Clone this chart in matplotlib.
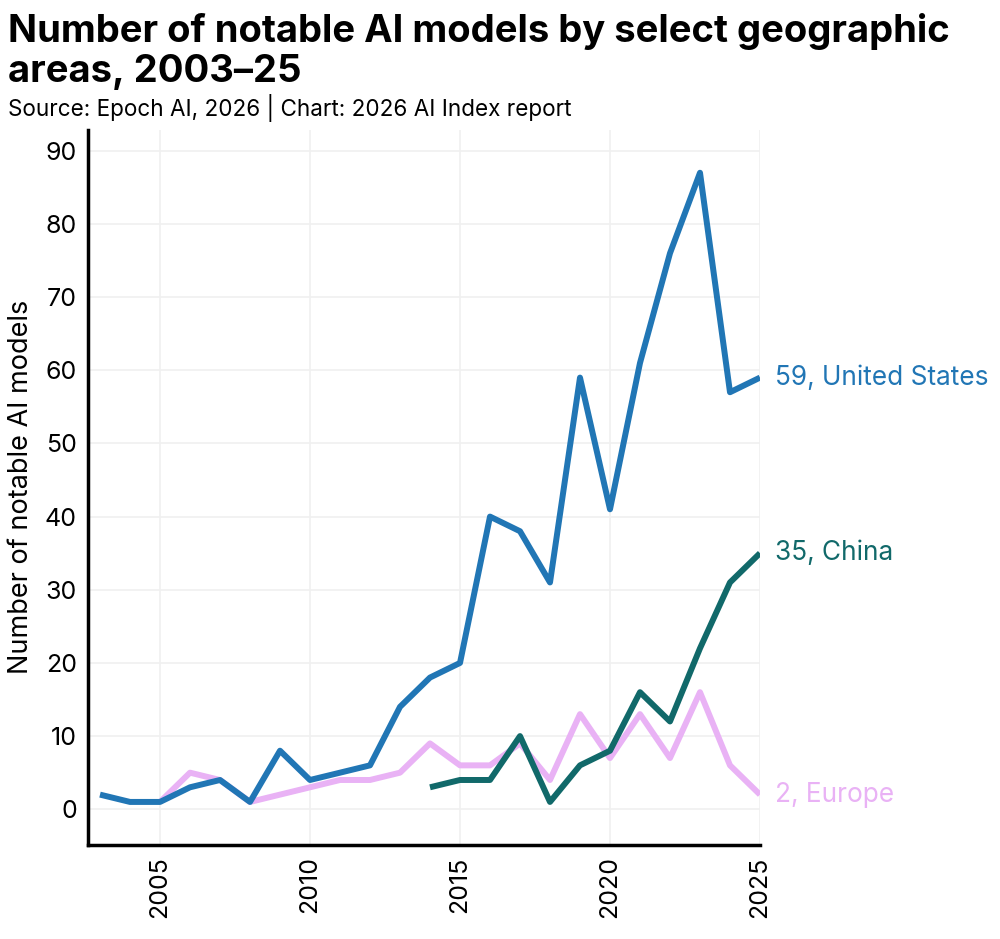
import matplotlib
matplotlib.use("Agg")
import matplotlib.pyplot as plt

years = list(range(2003, 2026))
us = [2, 1, 1, 3, 4, 1, 8, 4, 5, 6, 14, 18, 20, 40, 38, 31, 59, 41, 61, 76, 87, 57, 59]
europe_years = list(range(2005, 2026))
europe = [1, 5, 4, 1, 2, 3, 4, 4, 5, 9, 6, 6, 9, 4, 13, 7, 13, 7, 16, 6, 2]
china_years = list(range(2014, 2026))
china = [3, 4, 4, 10, 1, 6, 8, 16, 12, 22, 31, 35]

x_ticks = [2005, 2010, 2015, 2020, 2025]
y_ticks = [0, 10, 20, 30, 40, 50, 60, 70, 80, 90]

c_us = "#2176b5"
c_cn = "#11696a"
c_eu = "#e9b2f5"

plt.rcParams["font.family"] = ["Inter", "DejaVu Sans"]

W, H = 1000, 939
fig = plt.figure(figsize=(W / 100, H / 100), dpi=100)
ax = fig.add_axes([0.088, 0.100, 0.672, 0.762])

lw = 4.3
ax.plot(europe_years, europe, color=c_eu, lw=lw, solid_capstyle="butt", zorder=2)
ax.plot(china_years, china, color=c_cn, lw=lw, solid_capstyle="butt", zorder=3)
ax.plot(years, us, color=c_us, lw=lw, solid_capstyle="butt", zorder=4)

ax.set_xlim(2002.6, 2025)
ax.set_ylim(-4.9, 92.9)
ax.set_xticks(x_ticks)
ax.set_xticklabels([str(t) for t in x_ticks], rotation=90, fontsize=18)
ax.set_yticks(y_ticks)
ax.set_yticklabels([str(t) for t in y_ticks], fontsize=18)
ax.tick_params(length=0, pad=8)
ax.grid(True, color="#f0f0f0", lw=1.2)
ax.set_axisbelow(True)
for s in ["top", "right"]:
    ax.spines[s].set_visible(False)
for s in ["left", "bottom"]:
    ax.spines[s].set_linewidth(2.5)
    ax.spines[s].set_color("black")
ax.set_ylabel("Number of notable AI models", fontsize=19.5, labelpad=8)

lab_fs = 18.9
ax.annotate(f"{us[-1]}, United States", xy=(years[-1], us[-1]), xytext=(11, 0),
            textcoords="offset points", va="center", ha="left", fontsize=lab_fs,
            color=c_us, annotation_clip=False)
ax.annotate(f"{china[-1]}, China", xy=(china_years[-1], china[-1]), xytext=(11, 0),
            textcoords="offset points", va="center", ha="left", fontsize=lab_fs,
            color=c_cn, annotation_clip=False)
ax.annotate(f"{europe[-1]}, Europe", xy=(europe_years[-1], europe[-1]), xytext=(11, 0),
            textcoords="offset points", va="center", ha="left", fontsize=lab_fs,
            color=c_eu, annotation_clip=False)

fig.text(0.008, 1 - 42 / H, "Number of notable AI models by select geographic",
         fontsize=27.5, fontweight="bold", va="baseline", ha="left")
fig.text(0.008, 1 - 82 / H, "areas, 2003\u201325",
         fontsize=27.5, fontweight="bold", va="baseline", ha="left")
fig.text(0.008, 1 - 116 / H, "Source: Epoch AI, 2026 | Chart: 2026 AI Index report",
         fontsize=16.2, va="baseline", ha="left")

fig.savefig("out.png", dpi=100)
